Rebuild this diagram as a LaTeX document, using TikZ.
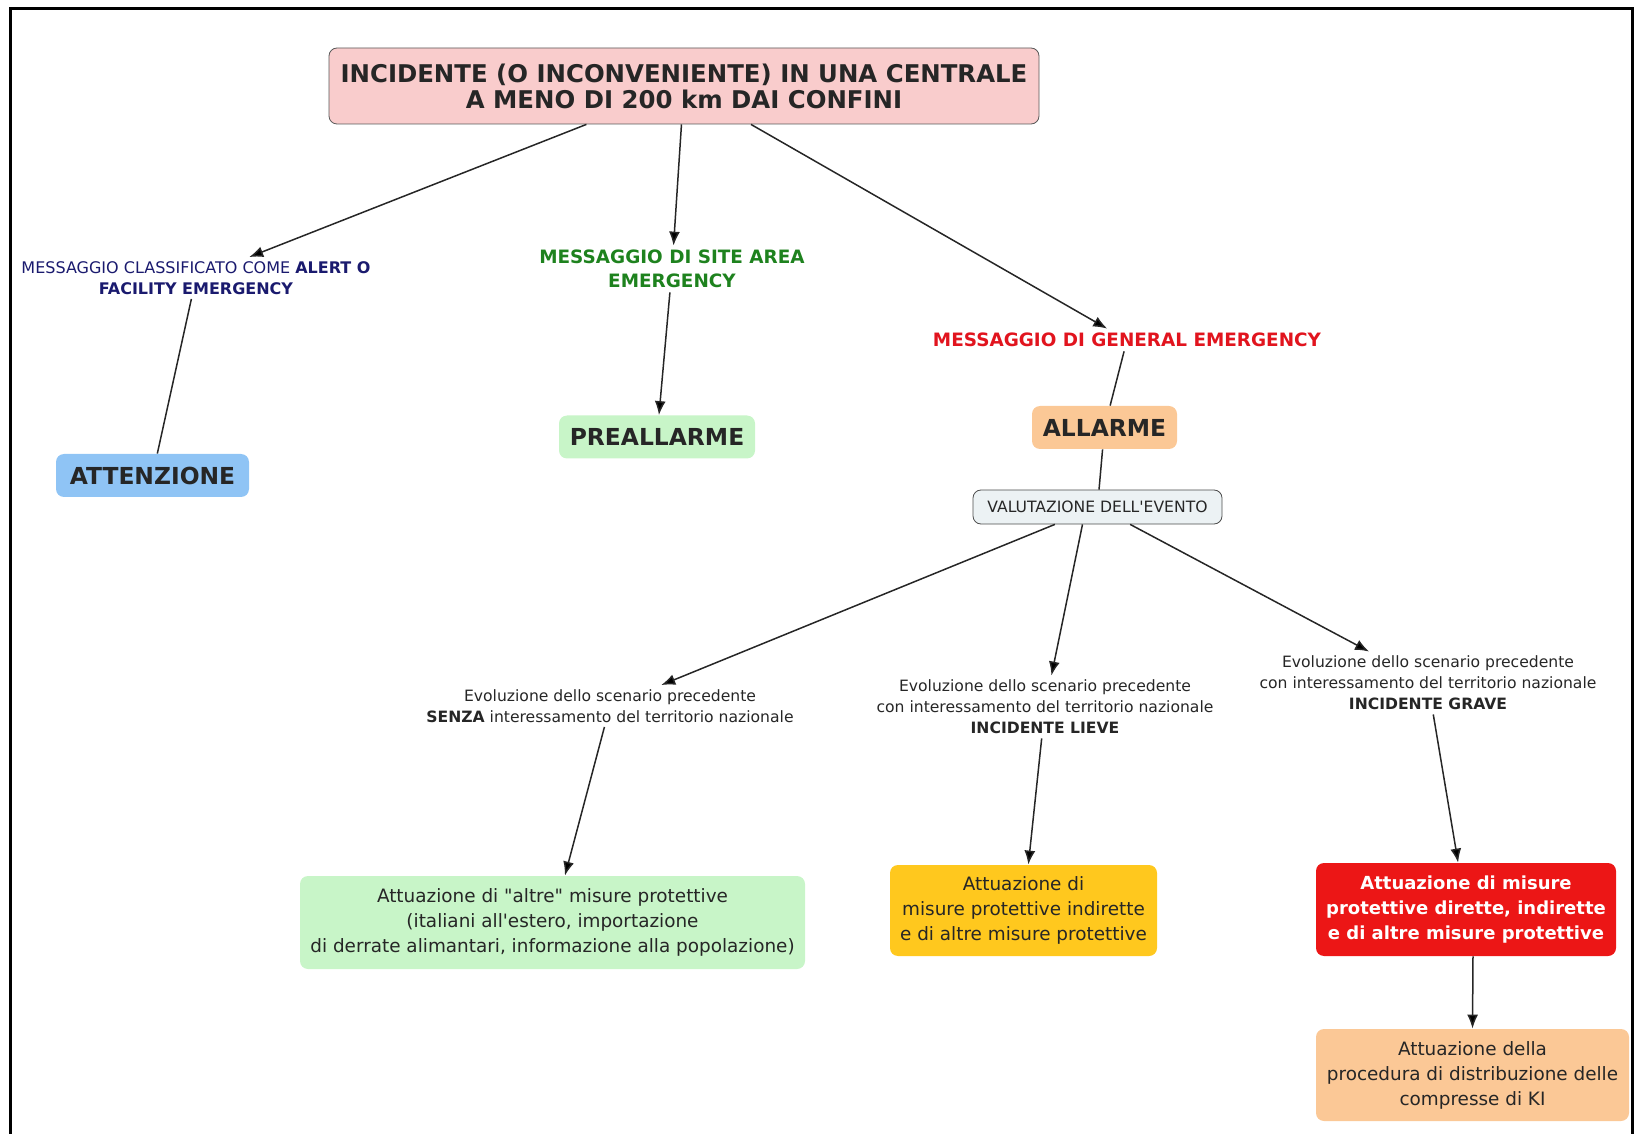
\documentclass[tikz,border=0pt]{standalone}
\usepackage{fontspec}
\setmainfont{DejaVu Sans}
\usepackage{tikz}
\usetikzlibrary{arrows.meta}

\definecolor{toppink}{RGB}{249,204,204}
\definecolor{attblue}{RGB}{143,196,245}
\definecolor{pregreen}{RGB}{200,245,200}
\definecolor{allorange}{RGB}{251,200,150}
\definecolor{valgray}{RGB}{236,242,244}
\definecolor{lieveyellow}{RGB}{255,200,30}
\definecolor{graved}{RGB}{236,22,22}
\definecolor{navytext}{RGB}{26,26,110}
\definecolor{greentext}{RGB}{30,130,30}
\definecolor{redtext}{RGB}{225,20,30}

\begin{document}
\begin{tikzpicture}[x=0.5pt, y=-0.5pt]
        % Setup the styles for concepts and linking phrases
        \tikzset{concept/.style={rounded corners=4pt,
                                 align=center,
                                 text=black!85,
                                 inner sep=0pt},
                 level/.style={concept,
                               minimum height=21.5pt,
                               font=\fontsize{11.7}{14}\selectfont\bfseries},
                 measure/.style={concept,
                                 font=\fontsize{9.2}{12.5}\selectfont},
                 link text/.style={align=center,
                                   inner sep=2pt,
                                   text=black!85,
                                   font=\fontsize{7.8}{10.5}\selectfont}}

        % Frame
        \useasboundingbox (0, 0) rectangle (1635, 1134);
        \draw[line width=1.5pt] (10, 1134) -- (10, 9) -- (1632, 9) -- (1632, 1134);

        % Draw the concepts
        \node[concept, draw=black!65, fill=toppink, minimum width=355pt, minimum height=38pt,
              font=\fontsize{12.2}{13}\selectfont\bfseries] at (684, 86) (top)
              {INCIDENTE (O INCONVENIENTE) IN UNA CENTRALE\\A MENO DI 200 km DAI CONFINI};
        \node[link text, text=navytext, font=\fontsize{8}{10.5}\selectfont] at (196, 278) (alert)
              {MESSAGGIO CLASSIFICATO COME \textbf{ALERT O}\\\textbf{FACILITY EMERGENCY}};
        \node[link text, text=greentext, font=\fontsize{9.2}{12}\selectfont\bfseries] at (672, 269) (site)
              {MESSAGGIO DI SITE AREA\\EMERGENCY};
        \node[link text, text=redtext, font=\fontsize{9.2}{12}\selectfont\bfseries] at (1127, 340) (general)
              {MESSAGGIO DI GENERAL EMERGENCY};
        \node[level, fill=attblue, minimum width=96.5pt] at (152.5, 475.5) (attenzione) {ATTENZIONE};
        \node[level, fill=pregreen, minimum width=98pt] at (657, 437) (preallarme) {PREALLARME};
        \node[level, fill=allorange, minimum width=72.5pt] at (1104.5, 427.5) (allarme) {ALLARME};
        \node[concept, draw=black!70, fill=valgray, minimum width=124.5pt, minimum height=17pt,
              font=\fontsize{7.8}{10}\selectfont] at (1097.5, 507) (valutazione)
              {VALUTAZIONE DELL\textquotesingle EVENTO};

        % Scenarios
        \node[link text] at (610, 706) (senza)
              {Evoluzione dello scenario precedente\\\textbf{SENZA} interessamento del territorio nazionale};
        \node[link text] at (1045, 707) (lieve)
              {Evoluzione dello scenario precedente\\con interessamento del territorio nazionale\\\textbf{INCIDENTE LIEVE}};
        \node[link text] at (1428, 683) (grave)
              {Evoluzione dello scenario precedente\\con interessamento del territorio nazionale\\\textbf{INCIDENTE GRAVE}};

        % Measures
        \node[measure, fill=pregreen, minimum width=252.5pt, minimum height=46.5pt] at (552.5, 922.5) (altre)
              {Attuazione di \textquotedbl altre\textquotedbl{} misure protettive\\(italiani all\textquotesingle estero, importazione\\di derrate alimantari, informazione alla popolazione)};
        \node[measure, fill=lieveyellow, minimum width=133.5pt, minimum height=45.5pt] at (1023.5, 910.5) (indirette)
              {Attuazione di\\misure protettive indirette\\e di altre misure protettive};
        \node[measure, fill=graved, text=white, minimum width=150pt, minimum height=46.5pt,
              font=\fontsize{9}{12.5}\selectfont\bfseries] at (1466, 909.5) (dirette)
              {Attuazione di misure\\protettive dirette, indirette\\e di altre misure protettive};
        \node[measure, fill=allorange, minimum width=156.5pt, minimum height=46pt] at (1472.5, 1075) (ki)
              {Attuazione della\\procedura di distribuzione delle\\compresse di KI};

        % Connect the concepts with lines
        \draw[line width=0.75pt,
              draw=black!85,
              >={Latex[length=7pt, width=5.5pt]}]
            (top)         edge[->]  (alert)
            (top)         edge[->]  (site)
            (top)         edge[->]  (general)
            (alert)       edge      (attenzione)
            (site)        edge[->]  (preallarme)
            (general)     edge      (allarme)
            (allarme)     edge      (valutazione)
            (valutazione) edge[->]  (senza)
            ([xshift=-7.5pt]valutazione.south) edge[->] (lieve)
            (valutazione) edge[->]  (grave)
            (senza)       edge[->]  (altre)
            (lieve)       edge[->]  (indirette)
            (grave)       edge[->]  (dirette)
            ([xshift=3.5pt]dirette.south) edge[->] (ki.north);
\end{tikzpicture}
\end{document}
